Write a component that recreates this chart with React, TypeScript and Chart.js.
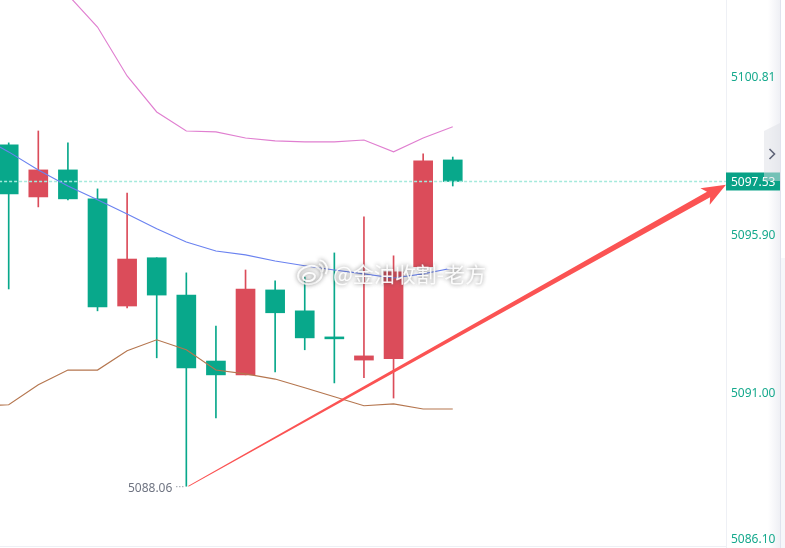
import React, { useEffect, useRef } from "react";
import { Chart, registerables } from "chart.js";

Chart.register(...registerables);

// candles, slot 1 is the first one on screen (slot 0 only feeds the lines)
const opens = [5098.67, 5097.05, 5097.89, 5096.99, 5093.66, 5095.16, 5094.0, 5091.95, 5091.52, 5094.16, 5093.51, 5092.7, 5091.98, 5092.02, 5094.88, 5098.2];
const closes = [5097.14, 5097.89, 5096.99, 5093.63, 5095.12, 5094.0, 5091.74, 5091.52, 5094.19, 5093.45, 5092.67, 5092.64, 5092.11, 5094.72, 5098.17, 5097.53];
const highs = [5098.73, 5099.1, 5098.73, 5097.3, 5097.17, 5095.16, 5094.69, 5093.04, 5094.78, 5094.44, 5094.56, 5095.31, 5096.43, 5095.22, 5098.39, 5098.29];
const lows = [5094.19, 5096.74, 5096.96, 5093.51, 5093.6, 5092.05, 5088.06, 5090.18, 5091.52, 5091.61, 5092.3, 5091.27, 5091.43, 5090.8, 5094.88, 5097.39];

const upperBand = [null, null, null, 5103.33, 5102.33, 5100.81, 5099.69, 5099.1, 5099.07, 5098.88, 5098.79, 5098.76, 5098.76, 5098.82, 5098.45, 5098.88, 5099.23];
const middleBand = [5098.95, 5098.45, 5097.89, 5097.39, 5096.96, 5096.52, 5096.06, 5095.65, 5095.37, 5095.25, 5095.06, 5094.91, 5094.78, 5094.66, 5094.53, 5094.66, 5094.84];
const lowerBand = [5090.56, 5090.59, 5091.21, 5091.67, 5091.67, 5092.27, 5092.61, 5092.3, 5091.67, 5091.55, 5091.39, 5091.12, 5090.84, 5090.56, 5090.62, 5090.46, 5090.46];

const tickValues = [5100.81, 5095.9, 5091.0, 5086.1];
const lastPrice = 5097.53;
const lowPrice = 5088.06;
const lowSlot = 7;
const watermark = "@金油收割-老方";

// hand drawn arrow on the picture, in chart units
const arrowTail = { x: 7.07, y: 5088.06 };
const arrowTip = { x: 25.23, y: 5097.43 };

const UP = "#db4c5a";
const DOWN = "#08a88b";
const TICK = "#16a98d";
const ARROW = "#fb5353";

const slots = Array.from({ length: 27 }, (_, i) => i);
const bodyData = opens.map((o, i) => ({ x: i + 1, y: [o, closes[i]] }));
const wickData = highs.map((h, i) => ({ x: i + 1, y: [lows[i], h] }));
const candleColors = opens.map((o, i) => (closes[i] > o ? UP : DOWN));
const lineData = (values: (number | null)[]) =>
  values.map((v, i) => ({ x: slots[i], y: v }));

const overlay = {
  id: "overlay",
  afterDatasetsDraw(chart: any) {
    const { ctx, scales, chartArea } = chart;
    const xs = scales.x;
    const ys = scales.y;
    const axisLeft = chartArea.right;
    ctx.save();

    // low price marker
    const lowY = ys.getPixelForValue(lowPrice);
    const lowX = xs.getPixelForValue(lowSlot);
    ctx.font = '12px "Noto Sans"';
    ctx.textBaseline = "middle";
    ctx.textAlign = "right";
    ctx.fillStyle = "#6f7482";
    ctx.fillText(lowPrice.toFixed(2), lowX - 14, lowY + 2.5);
    ctx.strokeStyle = "#6f7482";
    ctx.setLineDash([1, 2]);
    ctx.beginPath();
    ctx.moveTo(lowX - 10, lowY + 0.5);
    ctx.lineTo(lowX - 1, lowY + 0.5);
    ctx.stroke();
    ctx.setLineDash([]);

    // axis strip, with the side panel's shadow at its right edge
    ctx.fillStyle = "#ffffff";
    ctx.fillRect(axisLeft, 0, 59, 548);
    ctx.fillStyle = "#eef0f5";
    ctx.fillRect(axisLeft, 0, 1, 548);
    const shade = ctx.createLinearGradient(768, 0, 780, 0);
    shade.addColorStop(0, "rgba(225,227,236,0)");
    shade.addColorStop(1, "rgba(225,227,236,0.55)");
    ctx.fillStyle = shade;
    ctx.fillRect(768, 0, 12, 548);
    ctx.fillStyle = "#e0e3ee";
    ctx.fillRect(780, 0, 1, 548);
    ctx.fillStyle = "#f6f7fa";
    ctx.fillRect(781, 258, 4, 290);
    ctx.fillStyle = "#eef0f5";
    ctx.fillRect(0, 546, 726, 1);

    ctx.textAlign = "left";
    ctx.fillStyle = TICK;
    tickValues.forEach((v) => {
      const y = Math.min(ys.getPixelForValue(v), 538);
      ctx.fillText(v.toFixed(2), axisLeft + 5, y + 2);
    });

    // last price tag
    const priceY = ys.getPixelForValue(lastPrice);
    ctx.fillStyle = "#09a287";
    ctx.fillRect(axisLeft, priceY - 9, 54, 18);
    ctx.fillStyle = "#ffffff";
    ctx.fillText(lastPrice.toFixed(2), axisLeft + 5, priceY + 1);

    // collapse button, see-through over the tag
    ctx.fillStyle = "rgba(222,224,230,0.5)";
    ctx.beginPath();
    ctx.moveTo(764, 131);
    ctx.lineTo(780, 123);
    ctx.lineTo(780, 181);
    ctx.lineTo(764, 181);
    ctx.closePath();
    ctx.fill();
    ctx.strokeStyle = "#5f6478";
    ctx.lineWidth = 1.6;
    ctx.beginPath();
    ctx.moveTo(769.5, 149);
    ctx.lineTo(774.5, 154);
    ctx.lineTo(769.5, 159);
    ctx.stroke();

    // arrow, tapered shaft with a solid head
    const tx = xs.getPixelForValue(arrowTail.x);
    const ty = ys.getPixelForValue(arrowTail.y);
    const hx = xs.getPixelForValue(arrowTip.x);
    const hy = ys.getPixelForValue(arrowTip.y);
    const len = Math.hypot(hx - tx, hy - ty);
    const ux = (hx - tx) / len;
    const uy = (hy - ty) / len;
    const along = (d: number, side: number) => [
      hx - ux * d - uy * side,
      hy - uy * d + ux * side,
    ];
    const pts = [
      [tx, ty + 0.5],
      [tx, ty - 0.5],
      along(20, -3.2),
      along(24, -9.5),
      [hx, hy],
      along(24, 9.5),
      along(20, 3.2),
    ];
    ctx.fillStyle = ARROW;
    ctx.beginPath();
    pts.forEach(([px, py], i) => (i ? ctx.lineTo(px, py) : ctx.moveTo(px, py)));
    ctx.closePath();
    ctx.fill();

    // weibo watermark
    ctx.shadowColor = "rgba(60,60,60,0.7)";
    ctx.shadowBlur = 4;
    ctx.fillStyle = "rgba(255,255,255,0.92)";
    ctx.strokeStyle = "rgba(255,255,255,0.92)";
    ctx.lineWidth = 2;
    ctx.font = '21px "Noto Sans CJK SC"';
    ctx.fillText(watermark, 333, 274);
    ctx.beginPath();
    ctx.ellipse(310, 275, 12, 9, -0.2, 0, Math.PI * 2);
    ctx.stroke();
    ctx.beginPath();
    ctx.ellipse(309, 277, 6, 4, -0.2, 0, Math.PI * 2);
    ctx.stroke();
    ctx.beginPath();
    ctx.arc(318, 269, 5, -1.4, 0.6);
    ctx.stroke();
    ctx.beginPath();
    ctx.arc(318, 269, 9, -1.4, 0.6);
    ctx.stroke();
    ctx.restore();
  },
};

export default function App() {
  const chartRef = useRef<HTMLCanvasElement>(null);

  useEffect(() => {
    if (!chartRef.current) return;
    const chart = new Chart(chartRef.current, {
      type: "bar",
      data: {
        datasets: [
          {
            type: "line",
            data: lineData(upperBand),
            borderColor: "#e07fd0",
            borderWidth: 1.15,
            pointRadius: 0,
            order: 1,
          },
          {
            type: "line",
            data: lineData(middleBand),
            borderColor: "#6a82f0",
            borderWidth: 1.15,
            pointRadius: 0,
            order: 1,
          },
          {
            type: "line",
            data: lineData(lowerBand),
            borderColor: "#b5764f",
            borderWidth: 1.15,
            pointRadius: 0,
            order: 1,
          },
          {
            type: "line",
            data: [
              { x: slots[0], y: lastPrice },
              { x: slots[slots.length - 1], y: lastPrice },
            ],
            borderColor: "#a4e9dc",
            borderWidth: 1.5,
            borderDash: [3, 2],
            pointRadius: 0,
            order: 1,
          },
          {
            data: bodyData as any,
            backgroundColor: candleColors,
            barThickness: 19,
            grouped: false,
            order: 2,
          },
          {
            data: wickData as any,
            backgroundColor: candleColors,
            barThickness: 1,
            grouped: false,
            order: 3,
          },
        ],
      },
      options: {
        animation: false,
        responsive: false,
        layout: { padding: { left: 0, right: 59, top: 0, bottom: 0 } },
        plugins: { legend: { display: false }, tooltip: { enabled: false } },
        scales: {
          x: { type: "linear", display: false, offset: false, min: 0.706, max: 25.23, grid: { display: false } },
          y: { type: "linear", display: false, min: 5086.14, max: 5103.17, grid: { display: false } },
        },
      },
      plugins: [overlay],
    });
    return () => chart.destroy();
  }, []);

  return (
    <div style={{ position: "absolute", left: 0, top: 0, width: 785, height: 548, background: "#ffffff", overflow: "hidden" }}>
      <canvas ref={chartRef} width={785} height={548} style={{ display: "block" }} />
    </div>
  );
}
